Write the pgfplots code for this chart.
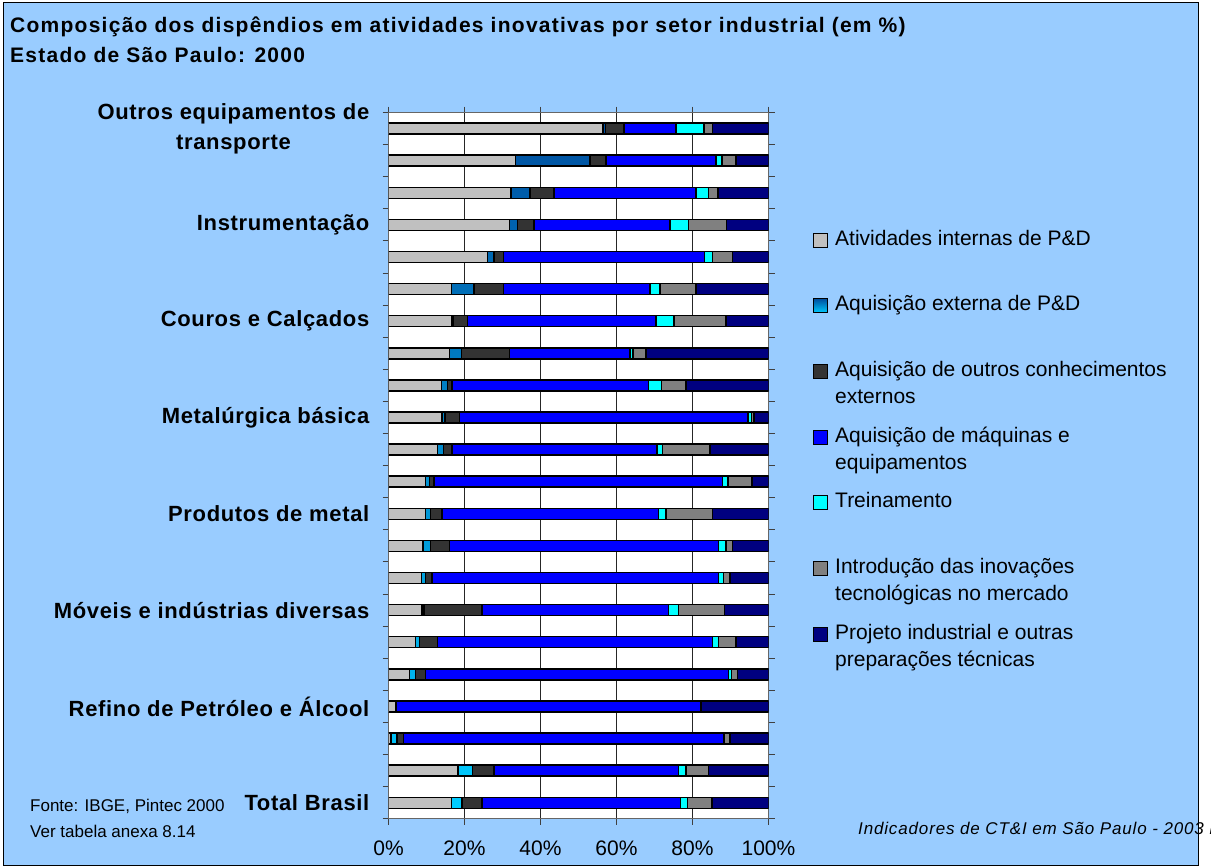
\documentclass[border=0pt]{standalone}
\usepackage{fontspec}
\setmainfont{Liberation Sans}
\newfontfamily\titlefont{Liberation Sans}[LetterSpace=6]
\newfontfamily\labelfont{Liberation Sans}[LetterSpace=3]
\newfontfamily\footfont{Liberation Sans}[LetterSpace=5]
\usepackage{pgfplots}
\pgfplotsset{compat=1.18}
\usepackage{pgfplotstable}

\definecolor{bgblue}{HTML}{99CCFF}
\definecolor{pdint}{HTML}{C0C0C0}
\definecolor{extA}{HTML}{0050A0}
\definecolor{extB}{HTML}{00CCFF}
\definecolor{outros}{HTML}{333333}
\definecolor{maq}{HTML}{0000FF}
\definecolor{trein}{HTML}{00FFFF}
\definecolor{intro}{HTML}{808080}
\definecolor{proj}{HTML}{000080}

% shares (%) per bar, top to bottom
\pgfplotstableread{
idx int  ext  out  maq  trein intro proj
1   56.5 0.6  4.9  13.7 7.3   2.2   14.8
2   33.4 19.6 4.2  29.0 1.5   3.8   8.5
3   32.3 4.9  6.3  37.4 3.3   2.5   13.3
4   31.9 2.0  4.4  35.8 4.8   10.1  11.0
5   26.1 1.6  2.6  52.8 2.1   5.3   9.5
6   16.6 5.9  7.8  38.5 2.6   9.5   19.1
7   16.7 0.4  3.7  49.6 4.7   13.7  11.2
8   16.1 3.1  12.7 31.6 0.9   3.4   32.2
9   14.0 1.5  1.2  51.7 3.5   6.4   21.7
10  14.1 0.8  3.8  75.9 0.9   0.7   3.8
11  12.9 1.6  2.2  53.9 1.5   12.5  15.4
12  9.7  1.1  1.2  75.9 1.5   6.2   4.4
13  9.7  1.3  3.1  56.9 2.0   12.2  14.8
14  9.1  1.9  5.1  70.7 2.0   1.7   9.5
15  8.7  1.1  1.6  75.4 1.3   1.8   10.1
16  8.8  0.5  15.3 49.1 2.6   12.1  11.6
17  7.1  1.1  4.7  72.3 1.6   4.7   8.5
18  5.5  1.6  2.7  79.7 0.8   1.5   8.2
19  1.8  0.0  0.2  80.2 0.0   0.0   17.8
20  0.7  1.6  1.7  84.1 0.2   1.6   10.1
21  18.3 3.8  5.6  48.6 2.0   5.9   15.8
22  16.6 2.7  5.3  52.3 1.8   6.4   14.9
}\dados

\newcommand{\leg}[1]{\parbox[t]{360pt}{\strut #1}}

\begin{document}
\begin{tikzpicture}
\useasboundingbox (0pt,0pt) rectangle (1211pt,868pt);
\fill[white] (0pt,0pt) rectangle (1211pt,868pt);
\filldraw[fill=bgblue, draw=black, line width=1pt] (3pt,2pt) rectangle (1198pt,865pt);

\node[anchor=base west, inner sep=0pt, font=\titlefont\fontsize{21}{24}\selectfont\bfseries]
  at (10pt,835pt) {Composição dos dispêndios em atividades inovativas por setor industrial (em \%)};
\node[anchor=base west, inner sep=0pt, font=\titlefont\fontsize{21}{24}\selectfont\bfseries]
  at (10pt,805pt) {Estado de São Paulo: 2000};

\node[anchor=base west, inner sep=0pt, font=\fontsize{17}{20}\selectfont] at (30pt,56pt) {Fonte: IBGE, Pintec 2000};
\node[anchor=base west, inner sep=0pt, font=\fontsize{17}{20}\selectfont] at (30pt,30pt) {Ver tabela anexa 8.14};
\node[anchor=base west, inner sep=0pt, font=\footfont\fontsize{17}{20}\selectfont\itshape] at (858pt,33pt) {Indicadores de CT\&I em São Paulo - 2003 FAPESP};

\begin{axis}[
  at={(388.5pt,49.2pt)}, anchor=south west,
  width=380pt, height=706.3pt, scale only axis,
  xbar stacked, bar width=11pt,
  xmin=0, xmax=100, ymin=0.5, ymax=22.5, y dir=reverse,
  axis background/.style={fill=white},
  axis line style={black!60, line width=1pt},
  xtick={0,20,...,100},
  xticklabel={\pgfmathprintnumber{\tick}\%},
  /pgf/number format/assume math mode=true,
  xticklabel style={font=\fontsize{21}{24}\selectfont, inner sep=0pt, yshift=-16pt},
  tick align=outside, major tick length=6pt, minor tick length=6pt,
  major x tick style={black!75, line width=1pt},
  xmajorgrids, major x grid style={black!85, line width=0.9pt},
  ytick={1,4,7,10,13,16,19,22},
  yticklabels={{Outros equipamentos de\\transporte},Instrumentação,Couros e Calçados,Metalúrgica básica,Produtos de metal,Móveis e indústrias diversas,Refino de Petróleo e Álcool,Total Brasil},
  yticklabel style={font=\labelfont\fontsize{22}{30}\selectfont\bfseries, align=center, inner sep=0pt, xshift=-13pt},
  major y tick style={draw=none},
  minor ytick={0.5,1.5,...,22.5},
  minor y tick style={black!75, line width=1pt},
  every axis plot/.append style={draw=black, line width=1.5pt},
  legend image code/.code={\draw[#1, line width=1pt, draw=black] (0pt,-2pt) rectangle (14pt,12pt);},
  legend cell align=left,
  legend style={draw=none, fill=none, at={(1.1171,0.8392)}, anchor=north west,
    inner sep=0pt, row sep=0pt, column sep=7pt,
    font=\fontsize{21}{27}\selectfont,
    nodes={inner sep=0pt, text depth=46.8pt}, cells={anchor=base west}},
]
\addplot[fill=pdint] table[x=int, y=idx] {\dados};
\addlegendentry{\leg{Atividades internas de P\&D}}
\addplot[top color=extA, bottom color=extB] table[x=ext, y=idx] {\dados};
\addlegendentry{\leg{Aquisição externa de P\&D}}
\addplot[fill=outros] table[x=out, y=idx] {\dados};
\addlegendentry{\leg{Aquisição de outros conhecimentos\\externos}}
\addplot[fill=maq] table[x=maq, y=idx] {\dados};
\addlegendentry{\leg{Aquisição de máquinas e\\equipamentos}}
\addplot[fill=trein] table[x=trein, y=idx] {\dados};
\addlegendentry{\leg{Treinamento}}
\addplot[fill=intro] table[x=intro, y=idx] {\dados};
\addlegendentry{\leg{Introdução das inovações\\tecnológicas no mercado}}
\addplot[fill=proj] table[x=proj, y=idx] {\dados};
\addlegendentry{\leg{Projeto industrial e outras\\preparações técnicas}}
\end{axis}
\end{tikzpicture}
\end{document}
